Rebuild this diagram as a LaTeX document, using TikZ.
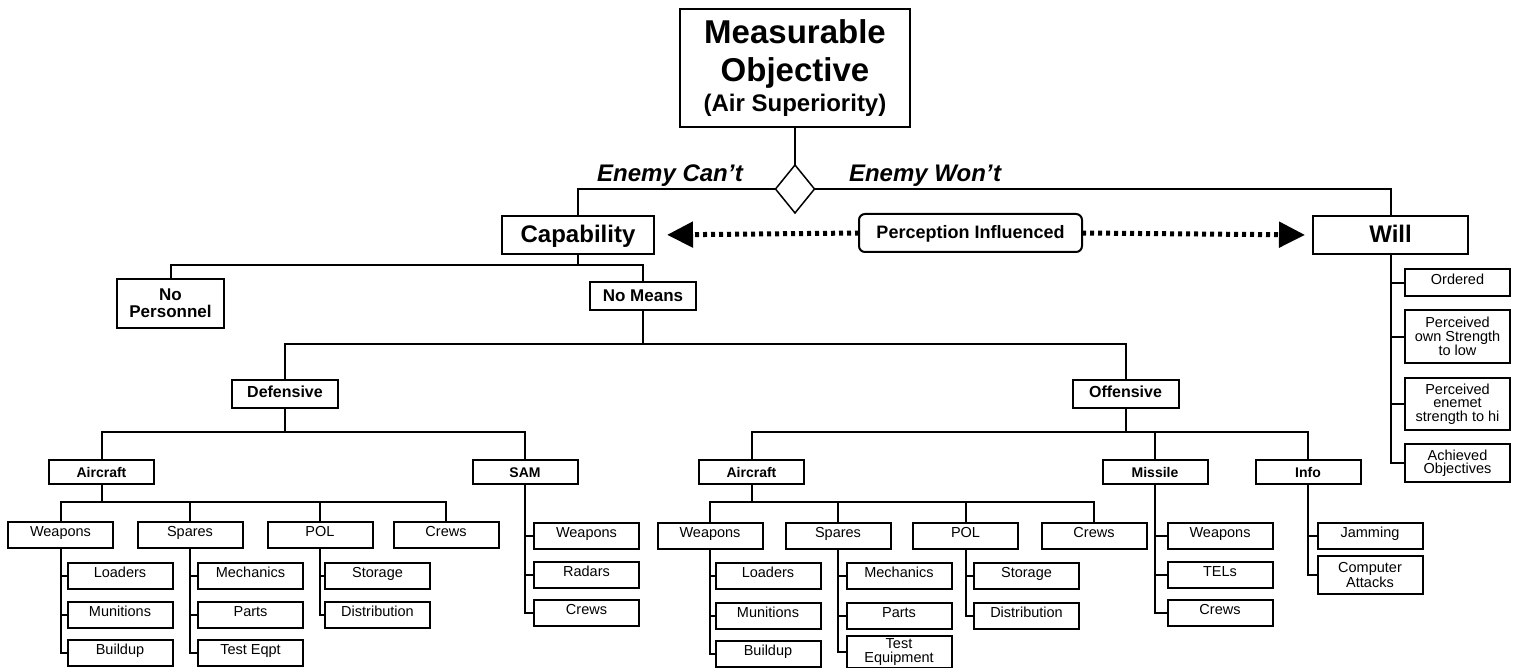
\documentclass[tikz,border=0pt]{standalone}
\usepackage{fontspec}
\setmainfont{Liberation Sans}
\usetikzlibrary{shapes.geometric,arrows.meta}
\begin{document}
\begin{tikzpicture}[x=1pt,y=-1pt,
  every node/.style={inner sep=0pt, outer sep=0pt},
  frame/.style={draw, line width=2pt},
  link/.style={line width=2pt, line join=miter},
  dots/.style={line width=5pt, dash pattern=on 4pt off 4pt,
    -{Triangle[length=26pt 0 0, width=25pt 0 0]}},
  leaf/.style={frame, minimum width=105pt, minimum height=26pt,
    font=\fontsize{14.5}{14}\selectfont, text height=10.5pt, text depth=7.5pt},
  leafm/.style={frame, minimum width=105pt, align=center,
    font=\fontsize{14.5}{13.5}\selectfont},
  group/.style={frame, minimum width=105pt, minimum height=24pt,
    font=\fontsize{14}{14}\selectfont\bfseries, text height=10pt, text depth=0pt},
  branch/.style={frame, minimum width=106pt, minimum height=28pt,
    font=\fontsize{16}{16}\selectfont\bfseries, text height=11pt, text depth=5pt},
  headline/.style={frame, minimum height=38pt,
    font=\fontsize{24}{24}\selectfont\bfseries, text height=17pt, text depth=1pt},
  slogan/.style={font=\fontsize{24}{24}\selectfont\bfseries\itshape}
]
\useasboundingbox (0,0) rectangle (1517,668);

% ---- top of the tree ----
\node[frame, minimum width=230pt, minimum height=118pt, align=center,
      font=\fontsize{33}{38}\selectfont\bfseries] (goal) at (795,68)
  {Measurable\\Objective\\[-8pt]\fontsize{24}{30}\selectfont(Air Superiority)};
\node[diamond, draw, line width=1.5pt, minimum width=39pt, minimum height=48pt] (fork) at (795,189) {};
\node[slogan, anchor=base east] (cant) at (743,182) {Enemy Can’t};
\node[slogan, anchor=base west] (wont) at (849,182) {Enemy Won’t};

\node[headline, minimum width=152pt] (cap) at (578,235) {Capability};
\node[headline, minimum width=155pt] (will) at (1390.5,235) {Will};
\node[frame, rounded corners=6pt, minimum width=223pt, minimum height=38pt,
      font=\fontsize{18}{18}\selectfont\bfseries, text height=13pt, text depth=2pt]
      (perc) at (970.5,233) {Perception Influenced};

% ---- capability branch ----
\node[frame, minimum width=107pt, minimum height=49pt, align=center,
      font=\fontsize{17}{17}\selectfont\bfseries] (nopers) at (170.5,303.5) {No\\Personnel};
\node[frame, minimum width=106pt, minimum height=28pt,
      font=\fontsize{17}{17}\selectfont\bfseries, text height=12pt, text depth=2pt]
      (nomeans) at (643,296) {No Means};

\node[branch] (def) at (285,394) {Defensive};
\node[branch] (off) at (1125.5,394) {Offensive};

\node[group] (airD) at (101.5,472) {Aircraft};
\node[group] (sam)  at (525,472)   {SAM};
\node[group] (airO) at (751.5,472) {Aircraft};
\node[group] (mis)  at (1155,472)  {Missile};
\node[group] (info) at (1308,472)  {Info};

% defensive aircraft
\node[leaf] (wpD)  at (60.5,535) {Weapons};
\node[leaf] (spD)  at (190,535)  {Spares};
\node[leaf] (polD) at (320,535)  {POL};
\node[leaf] (crD)  at (446,535)  {Crews};
\node[leaf] (ldD)  at (120,575.5) {Loaders};
\node[leaf] (mnD)  at (120,615)   {Munitions};
\node[leaf] (buD)  at (120,652.5) {Buildup};
\node[leaf] (meD)  at (250.5,575.5) {Mechanics};
\node[leaf] (paD)  at (250.5,615)   {Parts};
\node[leaf] (teD)  at (250.5,652.5) {Test Eqpt};
\node[leaf] (stD)  at (377.5,575.5) {Storage};
\node[leaf] (diD)  at (377.5,615)   {Distribution};

% SAM
\node[leaf] (wpS) at (586.5,536)   {Weapons};
\node[leaf] (raS) at (586.5,575)   {Radars};
\node[leaf] (crS) at (586.5,612.5) {Crews};

% offensive aircraft
\node[leaf] (wpO)  at (710,535.5)  {Weapons};
\node[leaf] (spO)  at (838,535.5)  {Spares};
\node[leaf] (polO) at (965.5,535.5) {POL};
\node[leaf] (crO)  at (1094,535.5) {Crews};
\node[leaf] (ldO)  at (768,576) {Loaders};
\node[leaf] (mnO)  at (768,616) {Munitions};
\node[leaf] (buO)  at (768,654) {Buildup};
\node[leaf] (meO)  at (899,576) {Mechanics};
\node[leaf] (paO)  at (899,616) {Parts};
\node[leafm, minimum height=32pt] (teO) at (899,652) {Test\\Equipment};
\node[leaf] (stO)  at (1026.5,576) {Storage};
\node[leaf] (diO)  at (1026.5,616) {Distribution};

% missile and info
\node[leaf] (wpM) at (1220,536)   {Weapons};
\node[leaf] (teM) at (1220,575)   {TELs};
\node[leaf] (crM) at (1220,612.5) {Crews};
\node[leaf] (jaI) at (1370,536)   {Jamming};
\node[leafm, minimum height=38pt] (caI) at (1370,575) {Computer\\Attacks};

% will
\node[leaf, minimum height=27pt] (ordW) at (1457.5,282.5) {Ordered};
\node[leafm, minimum height=53pt] (ownW) at (1457.5,336.5) {Perceived\\own Strength\\to low};
\node[leafm, minimum height=52pt] (eneW) at (1457.5,404) {Perceived\\enemet\\strength to hi};
\node[leafm, minimum height=38pt] (achW) at (1457.5,463) {Achieved\\Objectives};

% ---- connectors ----
\draw[link] (goal.south) -- (fork.north);
\draw[link] (fork.west) -| (cap.north);
\draw[link] (fork.east) -| (will.north);
\draw[dots, shorten >=13pt] (perc.west) -- (cap.east);
\draw[dots, shorten >=8pt] (perc.east) -- (will.west);

\draw[link] (cap.south) -- ++(0,11) -| (nopers.north);
\draw[link] (cap.south) -- ++(0,11) -| (nomeans.north);
\draw[link] (nomeans.south) -- ++(0,34) -| (def.north);
\draw[link] (nomeans.south) -- ++(0,34) -| (off.north);

\foreach \c in {airD,sam} \draw[link] (def.south) -- ++(0,24) -| (\c.north);
\foreach \c in {airO,mis,info} \draw[link] (off.south) -- ++(0,24) -| (\c.north);
\foreach \c in {wpD,spD,polD,crD} \draw[link] (airD.south) -- ++(0,18) -| (\c.north);
\foreach \c in {wpO,spO,polO,crO} \draw[link] (airO.south) -- ++(0,18) -| (\c.north);

\foreach \p/\c in {wpD/ldD,wpD/mnD,wpD/buD,spD/meD,spD/paD,spD/teD,polD/stD,polD/diD,
                   sam/wpS,sam/raS,sam/crS,
                   wpO/ldO,wpO/mnO,wpO/buO,spO/meO,spO/paO,spO/teO,polO/stO,polO/diO,
                   mis/wpM,mis/teM,mis/crM,info/jaI,info/caI,
                   will/ordW,will/ownW,will/eneW,will/achW}
  \draw[link] (\p.south) |- (\c.west);
\end{tikzpicture}
\end{document}
